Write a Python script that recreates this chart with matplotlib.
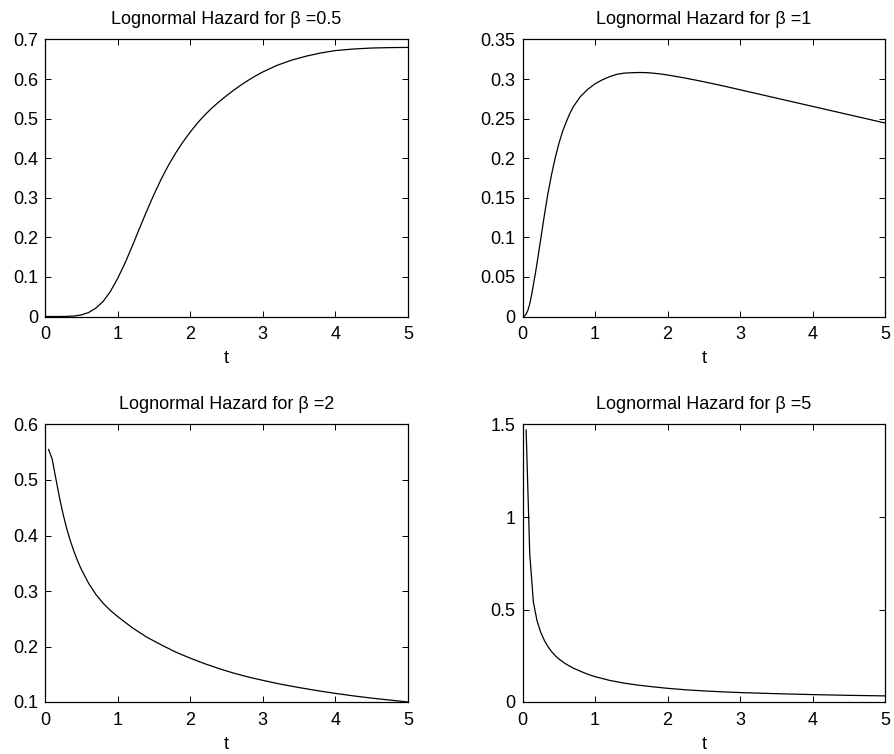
import matplotlib
matplotlib.use("Agg")
import matplotlib.pyplot as plt

plt.rcParams['font.family'] = ['Liberation Sans', 'DejaVu Sans']

# beta = 0.5
t_b05 = [0, 0.1, 0.2, 0.3, 0.4, 0.5, 0.6, 0.7, 0.8, 0.9, 1.0, 1.1, 1.2, 1.3, 1.4, 1.5, 1.6,
         1.7, 1.8, 1.9, 2.0, 2.1, 2.2, 2.3, 2.4, 2.5, 2.6, 2.7, 2.8, 2.9, 3.0, 3.2, 3.4,
         3.6, 3.8, 4.0, 4.25, 4.5, 4.75, 5.0]
h_b05 = [0, 0, 0, 0.0003, 0.0012, 0.004, 0.010, 0.021, 0.038, 0.063, 0.096, 0.134, 0.177,
         0.222, 0.266, 0.308, 0.347, 0.382, 0.413, 0.441, 0.466, 0.489, 0.509, 0.527, 0.543,
         0.558, 0.572, 0.585, 0.597, 0.608, 0.618, 0.635, 0.648, 0.658, 0.666, 0.672, 0.676,
         0.6785, 0.6795, 0.680]

# beta = 1
t_b1 = [0, 0.025, 0.05, 0.075, 0.1, 0.125, 0.15, 0.175, 0.2, 0.25, 0.3, 0.35, 0.4, 0.45,
        0.5, 0.55, 0.6, 0.65, 0.7, 0.8, 0.9, 1.0, 1.1, 1.2, 1.3, 1.4, 1.5, 1.6, 1.7, 1.8,
        1.9, 2.0, 2.2, 2.4, 2.6, 2.8, 3.0, 3.2, 3.4, 3.6, 3.8, 4.0, 4.2, 4.4, 4.6, 4.8, 5.0]
h_b1 = [0, 0.0005, 0.003, 0.008, 0.016, 0.027, 0.040, 0.053, 0.067, 0.097, 0.127, 0.155,
        0.179, 0.200, 0.218, 0.233, 0.245, 0.256, 0.265, 0.278, 0.287, 0.294, 0.299, 0.303,
        0.306, 0.3075, 0.308, 0.3083, 0.3082, 0.3075, 0.3065, 0.3052, 0.3020, 0.2985,
        0.2947, 0.2907, 0.2865, 0.2823, 0.2781, 0.2739, 0.2697, 0.2655, 0.2613, 0.2571,
        0.2529, 0.2487, 0.2445]

# beta = 2
t_b2 = [0.05, 0.1, 0.15, 0.2, 0.25, 0.3, 0.35, 0.4, 0.45, 0.5, 0.6, 0.7, 0.8, 0.9, 1.0,
        1.2, 1.4, 1.6, 1.8, 2.0, 2.2, 2.4, 2.6, 2.8, 3.0, 3.25, 3.5, 3.75, 4.0, 4.25, 4.5,
        4.75, 5.0]
h_b2 = [0.555, 0.537, 0.502, 0.468, 0.438, 0.412, 0.390, 0.371, 0.354, 0.339, 0.314, 0.294,
        0.278, 0.265, 0.254, 0.234, 0.217, 0.203, 0.190, 0.179, 0.169, 0.160, 0.152, 0.145,
        0.139, 0.132, 0.126, 0.1205, 0.1155, 0.111, 0.107, 0.1035, 0.100]

# beta = 5
t_b5 = [0.05, 0.1, 0.15, 0.2, 0.25, 0.3, 0.35, 0.4, 0.45, 0.5, 0.6, 0.7, 0.8, 0.9, 1.0,
        1.2, 1.4, 1.6, 1.8, 2.0, 2.25, 2.5, 2.75, 3.0, 3.5, 4.0, 4.5, 5.0]
h_b5 = [1.47, 0.80, 0.54, 0.44, 0.378, 0.334, 0.300, 0.273, 0.251, 0.233, 0.205, 0.183,
        0.166, 0.150, 0.137, 0.117, 0.102, 0.091, 0.082, 0.074, 0.066, 0.060, 0.055, 0.051,
        0.045, 0.040, 0.036, 0.033]

titles = ['Lognormal Hazard for β =0.5', 'Lognormal Hazard for β =1',
          'Lognormal Hazard for β =2', 'Lognormal Hazard for β =5']
xticks = [0, 1, 2, 3, 4, 5]
yticks_list = [[0, 0.1, 0.2, 0.3, 0.4, 0.5, 0.6, 0.7],
               [0, 0.05, 0.1, 0.15, 0.2, 0.25, 0.3, 0.35],
               [0.1, 0.2, 0.3, 0.4, 0.5, 0.6],
               [0, 0.5, 1, 1.5]]
ylabels_list = [['0', '0.1', '0.2', '0.3', '0.4', '0.5', '0.6', '0.7'],
                ['0', '0.05', '0.1', '0.15', '0.2', '0.25', '0.3', '0.35'],
                ['0.1', '0.2', '0.3', '0.4', '0.5', '0.6'],
                ['0', '0.5', '1', '1.5']]
ylims = [(0, 0.7), (0, 0.35), (0.1, 0.6), (0, 1.5)]
series = [(t_b05, h_b05), (t_b1, h_b1), (t_b2, h_b2), (t_b5, h_b5)]

W, H = 894, 754
fig = plt.figure(figsize=(W / 100, H / 100), dpi=100)
# pixel boxes: left, top, right, bottom
boxes = [(45, 39.5, 408, 316.5), (522.5, 39.5, 885, 316.5),
         (45, 424.5, 408, 702), (522.5, 424.5, 885, 702)]

for i in range(4):
    l, t, r, b = boxes[i]
    ax = fig.add_axes([l / W, 1 - b / H, (r - l) / W, (b - t) / H])
    x, y = series[i]
    ax.plot(x, y, color='black', linewidth=0.9)
    ax.set_xlim(0, 5)
    ax.set_ylim(*ylims[i])
    ax.set_xticks(xticks)
    ax.set_xticklabels([str(v) for v in xticks])
    ax.set_yticks(yticks_list[i])
    ax.set_yticklabels(ylabels_list[i])
    ax.tick_params(direction='in', length=4, width=0.7, top=True, right=True,
                   labelsize=13, pad=5)
    ax.tick_params(axis='x', pad=7)
    for s in ax.spines.values():
        s.set_linewidth(0.9)
    ax.set_title(titles[i], fontsize=13, pad=11)
    ax.set_xlabel('t', fontsize=13, labelpad=5)

fig.savefig('out.png', dpi=100)
